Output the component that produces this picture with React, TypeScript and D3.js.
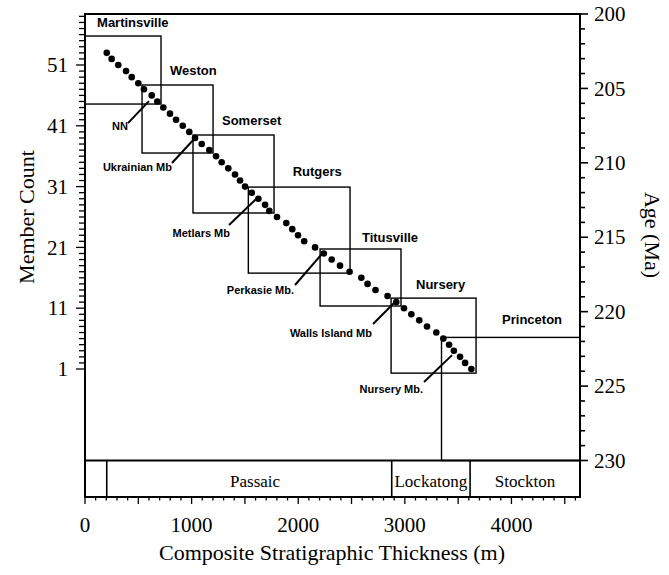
import React from "react";
import * as d3 from "d3";

// ---- data ----
const memberCounts = [53, 52, 51, 50, 49, 48, 47, 46, 45, 44, 43, 42, 41, 40, 39, 38, 37, 36, 35, 34, 33, 32, 31, 30, 29, 28, 27, 26, 25, 24, 23, 22, 21, 20, 19, 18, 17, 16, 15, 14, 13, 12, 11, 10, 9, 8, 7, 6, 5, 4, 3, 2, 1];
const memberThickness = [204, 250, 312, 385, 438, 500, 553, 626, 678, 735, 797, 854, 917, 978, 1032, 1095, 1166, 1229, 1282, 1344, 1407, 1454, 1501, 1564, 1626, 1689, 1729, 1801, 1888, 1944, 1998, 2056, 2158, 2240, 2314, 2392, 2482, 2592, 2650, 2725, 2838, 2920, 2992, 3061, 3135, 3208, 3295, 3361, 3415, 3460, 3518, 3565, 3624];

const boxNames = ["Martinsville", "Weston", "Somerset", "Rutgers", "Titusville", "Nursery", "Princeton"];
const boxStartM = [0, 535, 1013, 1532, 2205, 2871, 3344];
const boxEndM = [713, 1201, 1773, 2486, 2964, 3668, 4643];
const boxTopMa = [201.48, 204.77, 208.13, 211.63, 215.79, 219.09, 221.73];
const boxBottomMa = [206.05, 209.34, 213.37, 217.41, 219.62, 224.13, 230];
const boxLabelM = [113, 797, 1285, 1948, 2598, 3105, 3912];
const boxLabelMa = [200.87, 204.13, 207.49, 210.89, 215.29, 218.45, 220.8];

const mbNames = ["NN", "Ukrainian Mb", "Metlars Mb", "Perkasie Mb.", "Walls Island Mb", "Nursery Mb."];
const mbLabelM = [403, 816, 1360, 1961, 2692, 3171];
const mbLabelMa = [207.8, 210.55, 214.99, 218.82, 221.71, 225.47];
const mbFromM = [403, 816, 1351, 1970, 2702, 3180];
const mbFromMa = [207.33, 210.01, 214.18, 218.21, 220.83, 224.73];
const mbToM = [600, 1032, 1614, 2233, 2908, 3443];
const mbToMa = [205.85, 208.33, 212.37, 216.03, 219.35, 222.92];

const formationNames = ["", "Passaic", "Lockatong", "Stockton"];
const formationStartM = [0, 204, 2877, 3612];
const formationLabelM = [102, 1595, 3244, 4127];

const memberTickLabels = [1, 11, 21, 31, 41, 51];
const ageTickLabels = [200, 205, 210, 215, 220, 225, 230];
const thicknessTickLabels = [0, 1000, 2000, 3000, 4000];

const xMax = 4643;

export default function App() {
  const W = 669, H = 575;
  const x = d3.scaleLinear().domain([0, xMax]).range([85, 580]);
  const yAge = d3.scaleLinear().domain([200, 230]).range([14, 460.5]);
  const yMem = d3.scaleLinear().domain([1, 51]).range([369, 65]);
  const barBottom = 497;
  const serif = "'Liberation Serif', 'Times New Roman', serif";
  const sans = "'Liberation Sans', Arial, sans-serif";

  const memberTicks = d3.range(1, 60);
  const ageTicks = d3.range(200, 231);
  const thickTicks = d3.range(0, xMax, 100);

  return (
    <svg width={W} height={H} style={{ position: "absolute", left: 0, top: 0, background: "#fff" }}>
      <rect x={0} y={0} width={W} height={H} fill="#fff" />
      {/* boxes */}
      {boxNames.map((n, i) => (
        <rect key={"b" + i} x={x(boxStartM[i])} y={yAge(boxTopMa[i])}
          width={x(boxEndM[i]) - x(boxStartM[i])} height={yAge(boxBottomMa[i]) - yAge(boxTopMa[i])}
          fill="none" stroke="#000" strokeWidth={1.4} />
      ))}
      {boxNames.map((n, i) => (
        <text key={"bl" + i} x={x(boxLabelM[i])} y={yAge(boxLabelMa[i])} fontFamily={sans}
          fontWeight="bold" fontSize={13}>{n}</text>
      ))}
      {/* leaders */}
      {mbNames.map((n, i) => (
        <g key={"m" + i}>
          <line x1={x(mbFromM[i])} y1={yAge(mbFromMa[i])} x2={x(mbToM[i])} y2={yAge(mbToMa[i])}
            stroke="#000" strokeWidth={2} />
          <text x={x(mbLabelM[i])} y={yAge(mbLabelMa[i])} textAnchor="end" fontFamily={sans}
            fontWeight="bold" fontSize={11}>{n}</text>
        </g>
      ))}
      {/* dots */}
      {memberCounts.map((m, i) => (
        <circle key={"d" + i} cx={x(memberThickness[i])} cy={yMem(m)} r={3.3} fill="#000" />
      ))}
      {/* formation bar */}
      <line x1={x(0)} x2={x(xMax)} y1={yAge(230)} y2={yAge(230)} stroke="#000" strokeWidth={2} />
      {formationStartM.map((s, i) => i > 0 ? (
        <line key={"f" + i} x1={x(s)} x2={x(s)} y1={yAge(230)} y2={barBottom} stroke="#000" strokeWidth={1.6} />
      ) : null)}
      {formationNames.map((n, i) => (
        <text key={"fl" + i} x={x(formationLabelM[i])} y={487} textAnchor="middle" fontFamily={serif}
          fontSize={17}>{n}</text>
      ))}
      {/* frame */}
      <rect x={x(0)} y={yAge(200)} width={x(xMax) - x(0)} height={barBottom - yAge(200)} fill="none"
        stroke="#000" strokeWidth={2} />
      {/* left axis */}
      {memberTicks.map((m) => {
        const major = memberTickLabels.includes(m);
        return <line key={"lt" + m} x1={x(0)} x2={x(0) - (major ? 9 : 6)} y1={yMem(m)} y2={yMem(m)}
          stroke="#000" strokeWidth={1.3} />;
      })}
      {memberTickLabels.map((m) => (
        <text key={"ll" + m} x={68} y={yMem(m)} dy="0.34em" textAnchor="end" fontFamily={serif} fontSize={21}>{m}</text>
      ))}
      {/* right axis */}
      {ageTicks.map((a) => {
        const major = a % 5 === 0;
        return <line key={"rt" + a} x1={x(xMax)} x2={x(xMax) + (major ? 8 : 5)} y1={yAge(a)} y2={yAge(a)}
          stroke="#000" strokeWidth={1.6} />;
      })}
      {ageTickLabels.map((a) => (
        <text key={"rl" + a} x={594} y={yAge(a)} dy="0.34em" fontFamily={serif} fontSize={21}>{a}</text>
      ))}
      {/* bottom axis */}
      {thickTicks.map((t) => {
        const major = t % 500 === 0;
        return <line key={"bt" + t} x1={x(t)} x2={x(t)} y1={barBottom} y2={barBottom + (major ? 7 : 3.5)}
          stroke="#000" strokeWidth={1.3} />;
      })}
      {thicknessTickLabels.map((t) => (
        <text key={"bx" + t} x={x(t)} y={532} textAnchor="middle" fontFamily={serif} fontSize={21}>{t}</text>
      ))}
      {/* titles */}
      <text x={332} y={560} textAnchor="middle" fontFamily={serif} fontSize={22}>Composite Stratigraphic Thickness (m)</text>
      <text transform="translate(34,217) rotate(-90)" textAnchor="middle" fontFamily={serif} fontSize={22}>Member Count</text>
      <text transform="translate(645,235) rotate(90)" textAnchor="middle" fontFamily={serif} fontSize={22}>Age (Ma)</text>
    </svg>
  );
}
